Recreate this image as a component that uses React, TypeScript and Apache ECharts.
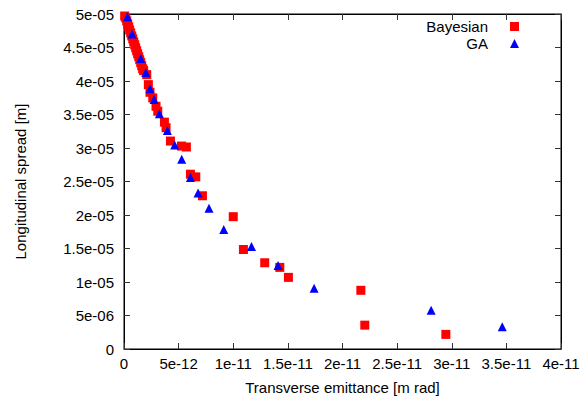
import React, { useEffect, useRef } from "react";
import * as echarts from "echarts";

const bayesianX = [0.06, 0.16, 0.25, 0.34, 0.43, 0.52, 0.61, 0.71, 0.8, 0.89, 0.98, 1.07, 1.16, 1.25, 1.35, 1.44, 1.53, 1.62, 1.71, 1.8, 2.08, 2.23, 2.38, 2.63, 2.93, 3.09, 3.7, 3.85, 4.25, 5.26, 5.71, 6.08, 6.57, 7.18, 10.0, 10.93, 12.88, 14.26, 15.05, 21.68, 22.04, 29.46];
const bayesianY = [49.7, 49.41, 48.96, 48.52, 48.07, 47.62, 47.18, 46.73, 46.29, 45.84, 45.4, 44.95, 44.51, 44.06, 43.62, 43.17, 42.73, 42.28, 41.83, 41.54, 40.95, 39.46, 38.31, 37.48, 36.23, 35.49, 33.86, 33.03, 31.04, 30.29, 30.15, 26.09, 25.69, 22.87, 19.75, 14.85, 12.87, 12.18, 10.69, 8.76, 3.56, 2.18];

const gaX = [0.31, 0.73, 1.53, 1.99, 2.38, 2.75, 3.24, 3.97, 4.64, 5.28, 6.08, 6.78, 7.78, 9.13, 11.67, 14.1, 17.4, 28.11, 34.62];
const gaY = [49.6, 47.03, 43.34, 41.28, 38.86, 37.23, 35.11, 32.63, 30.44, 28.32, 25.6, 23.27, 21.0, 17.82, 15.3, 12.48, 9.06, 5.79, 3.33];

const xTickLabels = ["0", "5e-12", "1e-11", "1.5e-11", "2e-11", "2.5e-11", "3e-11", "3.5e-11", "4e-11"];
const yTickLabels = ["0", "5e-06", "1e-05", "1.5e-05", "2e-05", "2.5e-05", "3e-05", "3.5e-05", "4e-05", "4.5e-05", "5e-05"];

const X_SCALE = 1e-12;
const Y_SCALE = 1e-6;
const X_STEP = 5e-12;
const Y_STEP = 5e-6;

export default function App() {
  const ref = useRef<HTMLDivElement>(null);
  useEffect(() => {
    if (!ref.current) return;
    const chart = echarts.init(ref.current, undefined, { renderer: "svg" });
    const font = "Liberation Sans, Arial, sans-serif";
    const FS = 15;
    const axisLine = { show: true, onZero: false, lineStyle: { color: "#000", width: 1 } };
    const tick = { show: true, inside: true, length: 6, lineStyle: { color: "#333", width: 1 } };
    const xBase = {
      type: "value" as const,
      min: 0,
      max: 4e-11,
      interval: X_STEP,
      splitLine: { show: false },
      axisLine,
      axisTick: tick,
    };
    const yBase = {
      type: "value" as const,
      min: 0,
      max: 5e-5,
      interval: Y_STEP,
      splitLine: { show: false },
      axisLine,
      axisTick: tick,
    };
    chart.setOption({
      animation: false,
      backgroundColor: "#fff",
      textStyle: { fontFamily: font },
      grid: {
        left: 124,
        right: 22,
        top: 14,
        bottom: 49,
        containLabel: false,
        show: true,
        borderColor: "#000",
        borderWidth: 1,
        backgroundColor: "transparent",
      },
      legend: {
        orient: "vertical",
        align: "right",
        right: 59,
        top: 13,
        itemWidth: 9,
        itemHeight: 9,
        itemGap: 0,
        textStyle: { fontSize: FS, lineHeight: 17, color: "#000", fontFamily: font, padding: [0, 17, 0, 0] },
        data: [
          { name: "Bayesian", icon: "rect" },
          { name: "GA", icon: "triangle" },
        ],
      },
      xAxis: [
        {
          ...xBase,
          position: "bottom",
          name: "Transverse emittance [m rad]",
          nameLocation: "middle",
          nameGap: 31,
          nameTextStyle: { fontSize: FS, color: "#000", fontFamily: font },
          axisLabel: {
            fontSize: FS,
            color: "#000",
            margin: 7,
            fontFamily: font,
            formatter: (v: number) => xTickLabels[Math.round(v / X_STEP)] ?? "",
          },
        },
        {
          ...xBase,
          position: "top",
          axisLabel: { show: false },
        },
      ],
      yAxis: [
        {
          ...yBase,
          position: "left",
          name: "Longitudinal spread [m]",
          nameLocation: "middle",
          nameGap: 96,
          nameTextStyle: { fontSize: FS, color: "#000", fontFamily: font },
          axisLabel: {
            fontSize: FS,
            color: "#000",
            margin: 10,
            fontFamily: font,
            formatter: (v: number) => yTickLabels[Math.round(v / Y_STEP)] ?? "",
          },
        },
        {
          ...yBase,
          position: "right",
          axisLabel: { show: false },
        },
      ],
      series: [
        {
          name: "Bayesian",
          type: "scatter",
          symbol: "rect",
          symbolSize: 9,
          itemStyle: { color: "#ff0000", opacity: 1 },
          data: bayesianX.map((x, i) => [x * X_SCALE, bayesianY[i] * Y_SCALE]),
        },
        {
          name: "GA",
          type: "scatter",
          symbol: "triangle",
          symbolSize: 9,
          itemStyle: { color: "#0000ff", opacity: 1 },
          data: gaX.map((x, i) => [x * X_SCALE, gaY[i] * Y_SCALE]),
        },
      ],
    });
    return () => chart.dispose();
  }, []);
  return (
    <div
      ref={ref}
      style={{ position: "fixed", left: 0, top: 0, width: 583, height: 400, overflow: "hidden" }}
    />
  );
}
